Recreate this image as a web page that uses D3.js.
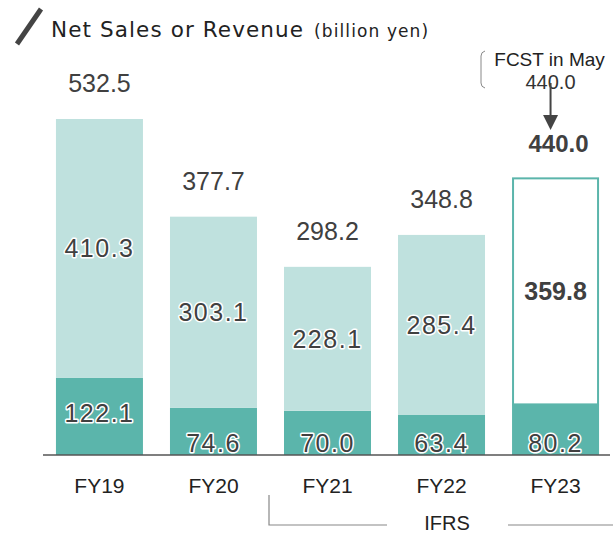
<!DOCTYPE html>
<html>
<head>
<meta charset="utf-8">
<script src="https://cdn.jsdelivr.net/npm/d3@7"></script>
<style>
  body{margin:0;background:#fff;}
  svg{display:block;font-family:"Liberation Sans",Arial,sans-serif;}
  .halo{paint-order:stroke;stroke:#fff;stroke-width:3px;stroke-linejoin:round;}
</style>
</head>
<body>
<div id="chart"></div>
<script>
const years = ["FY19","FY20","FY21","FY22","FY23"]
const lowerVals = [122.1,74.6,70.0,63.4,80.2]
const upperVals = [410.3,303.1,228.1,285.4,359.8]
const totals = [532.5,377.7,298.2,348.8,440.0]
const fcstLabel = "FCST in May"
const fcstValue = 440.0

function render(){
  let width = 613,
      height = 534,
      baseY = 455,
      light = "#bfe1de",
      dark = "#5bb5ab",
      ink = "#404040"

  const data = years.map((y,i)=>({year:y,low:lowerVals[i],up:upperVals[i],total:totals[i],fcst:i===years.length-1}))

  const x = d3.scaleBand().domain(years).range([42.5,612.5]).paddingInner(0.237).paddingOuter(0.118)
  const y = d3.scaleLinear().domain([0,532.5]).range([baseY,119])

  const svg = d3.select("#chart").append("svg")
    .attr("width",width).attr("height",height)
    .attr("viewBox",`0 0 ${width} ${height}`)

  // title
  svg.append("line").attr("x1",17).attr("y1",44).attr("x2",41).attr("y2",9)
    .attr("stroke","#444").attr("stroke-width",5)
  const title = svg.append("text").attr("x",51).attr("y",37).attr("fill","#222")
    .style("font-family","'DejaVu Sans',Verdana,sans-serif")
  title.append("tspan").attr("font-size",21.5).attr("letter-spacing",1.1).text("Net Sales or Revenue")
  title.append("tspan").attr("font-size",17).attr("letter-spacing",1.1).attr("dx",10).text("(billion yen)")

  const g = svg.append("g")

  // lower segment
  g.selectAll(".low").data(data).enter().append("rect")
    .attr("x",d=>x(d.year)).attr("width",x.bandwidth())
    .attr("y",d=>y(d.low)).attr("height",d=>baseY-y(d.low))
    .attr("fill",dark)

  // upper segment
  g.selectAll(".up").data(data).enter().append("rect")
    .attr("x",d=>d.fcst ? x(d.year)+1 : x(d.year))
    .attr("width",d=>d.fcst ? x.bandwidth()-2 : x.bandwidth())
    .attr("y",d=>y(d.total)+(d.fcst?1:0))
    .attr("height",d=>y(d.low)-y(d.total)-(d.fcst?1:0))
    .attr("fill",d=>d.fcst ? "#fff" : light)
    .attr("stroke",d=>d.fcst ? dark : "none")
    .attr("stroke-width",2)

  // axis line
  svg.append("line").attr("x1",43).attr("x2",610).attr("y1",baseY).attr("y2",baseY)
    .attr("stroke","#555").attr("stroke-width",1.5)

  // totals
  g.selectAll(".tot").data(data).enter().append("text")
    .attr("x",d=>x(d.year)+x.bandwidth()/2 + (d.fcst?3:0))
    .attr("y",d=>y(d.total)-(d.fcst?25:27))
    .attr("text-anchor","middle")
    .attr("font-size",d=>d.fcst?24:25)
    .attr("font-weight",d=>d.fcst?"bold":"normal")
    .attr("fill",ink)
    .text(d=>d.total.toFixed(1))

  // upper labels
  g.selectAll(".upl").data(data).enter().append("text")
    .attr("class",d=>d.fcst?"":"halo")
    .attr("x",d=>x(d.year)+x.bandwidth()/2)
    .attr("y",d=>(y(d.total)+y(d.low))/2+9)
    .attr("text-anchor","middle")
    .attr("font-size",25)
    .attr("letter-spacing",d=>d.fcst?0:1.5)
    .attr("font-weight",d=>d.fcst?"bold":"normal")
    .attr("fill",ink)
    .text(d=>d.up.toFixed(1))

  // lower labels
  g.selectAll(".lowl").data(data).enter().append("text")
    .attr("class","halo")
    .attr("x",d=>x(d.year)+x.bandwidth()/2)
    .attr("y",d=>d.low>100 ? (baseY+y(d.low))/2+6 : baseY-3)
    .attr("text-anchor","middle")
    .attr("font-size",25)
    .attr("letter-spacing",1.5)
    .attr("fill",ink)
    .text(d=>d.low.toFixed(1))

  // x labels
  svg.selectAll(".xl").data(years).enter().append("text")
    .attr("x",d=>x(d)+x.bandwidth()/2).attr("y",493)
    .attr("text-anchor","middle").attr("font-size",21).attr("fill","#222")
    .text(d=>d)

  // forecast note
  const fx = x("FY23")+x.bandwidth()/2-5
  svg.append("path").attr("d","M485,51 Q481,52 481,56 L481,83 Q481,87 485,88")
    .attr("fill","none").attr("stroke","#888").attr("stroke-width",1)
  svg.append("text").attr("x",fx-1).attr("y",66).attr("text-anchor","middle")
    .attr("font-size",19).attr("fill","#222").text(fcstLabel)
  svg.append("text").attr("x",fx).attr("y",89).attr("text-anchor","middle")
    .attr("font-size",20).attr("fill","#333").text(fcstValue.toFixed(1))
  svg.append("line").attr("x1",fx).attr("x2",fx).attr("y1",83).attr("y2",116)
    .attr("stroke","#444").attr("stroke-width",2)
  svg.append("path").attr("d",`M${fx-7.5},115 L${fx+7.5},115 L${fx},130 Z`).attr("fill","#444")

  // IFRS bracket
  const bx = x("FY21")-15
  svg.append("path").attr("d",`M${bx},495 L${bx},525 L387,525`)
    .attr("fill","none").attr("stroke","#888").attr("stroke-width",1.2)
  svg.append("line").attr("x1",508).attr("x2",613).attr("y1",525).attr("y2",525)
    .attr("stroke","#888").attr("stroke-width",1.2)
  svg.append("text").attr("x",447).attr("y",530).attr("text-anchor","middle")
    .attr("font-size",20).attr("fill","#222").text("IFRS")
}

render()
</script>
</body>
</html>
